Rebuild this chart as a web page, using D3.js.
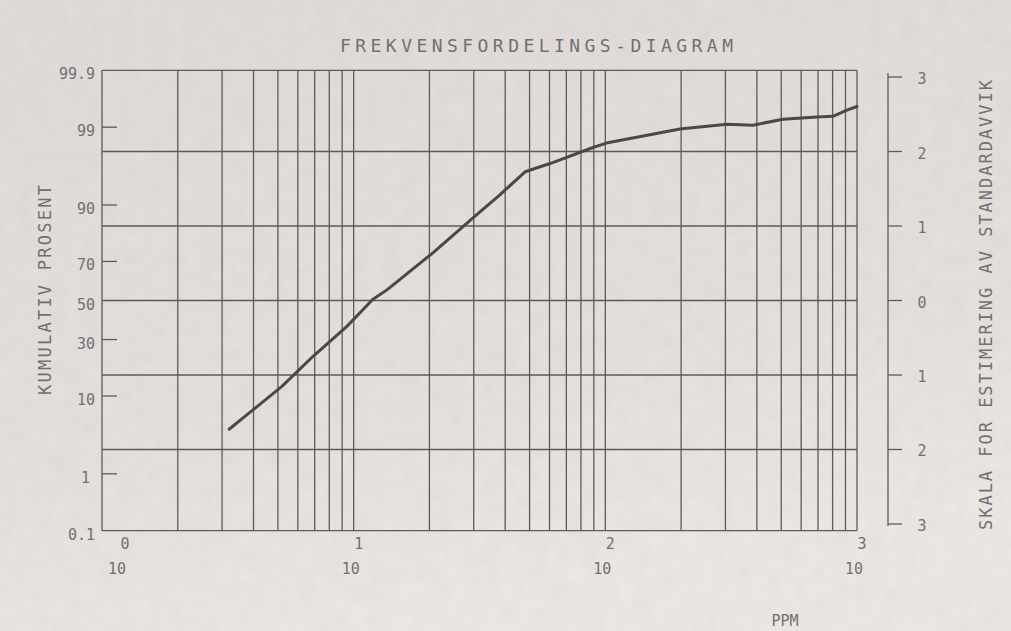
<script src='https://d3js.org/d3.v7.min.js'></script>
<body style="margin:0">
<script>
  // cumulative frequency curve
  const ppm = [3.2, 5.2, 6.9, 9.4, 11.9, 13.6, 20.7, 29.8, 38.1, 48, 60.3, 89.3, 101, 198, 304, 386, 508, 693, 802, 912, 1000];
  const cumPct = [4.2, 12.5, 22.7, 36.4, 50.5, 55.8, 74.0, 86.6, 92.2, 95.8, 96.7, 98.0, 98.27, 98.93, 99.10, 99.07, 99.25, 99.31, 99.33, 99.47, 99.54];

  const pctTicks = [99, 90, 70, 30, 10, 1];
  const pctLabels = ["99.9", "99", "90", "70", "50", "30", "10", "1", "0.1"];
  const sdTicks = [3, 2, 1, 0, -1, -2, -3];
  const sdLabels = ["3", "2", "1", "0", "1", "2", "3"];
  const decades = [0, 1, 2, 3];

  const width = 1011, height = 631;
  const ink = "#5e5a5a";
  const txt = "#747070";
  const font = "'DejaVu Sans Mono', monospace";

  // inverse normal cdf (Acklam)
  function probit(p) {
    var a = [-3.969683028665376e+01, 2.209460984245205e+02, -2.759285104469687e+02, 1.383577518672690e+02, -3.066479806614716e+01, 2.506628277459239e+00];
    var b = [-5.447609879822406e+01, 1.615858368580409e+02, -1.556989798598866e+02, 6.680131188771972e+01, -1.328068155288572e+01];
    var c = [-7.784894002430293e-03, -3.223964580411365e-01, -2.400758277161838e+00, -2.549732539343734e+00, 4.374664141464968e+00, 2.938163982698783e+00];
    var d = [7.784695709041462e-03, 3.224671290700398e-01, 2.445134137142996e+00, 3.754408661907416e+00];
    var pl = 0.02425, q, r;
    if (p < pl) {
      q = Math.sqrt(-2 * Math.log(p));
      return (((((c[0]*q+c[1])*q+c[2])*q+c[3])*q+c[4])*q+c[5]) / ((((d[0]*q+d[1])*q+d[2])*q+d[3])*q+1);
    } else if (p <= 1 - pl) {
      q = p - 0.5; r = q * q;
      return (((((a[0]*r+a[1])*r+a[2])*r+a[3])*r+a[4])*r+a[5])*q / (((((b[0]*r+b[1])*r+b[2])*r+b[3])*r+b[4])*r+1);
    } else {
      q = Math.sqrt(-2 * Math.log(1 - p));
      return -(((((c[0]*q+c[1])*q+c[2])*q+c[3])*q+c[4])*q+c[5]) / ((((d[0]*q+d[1])*q+d[2])*q+d[3])*q+1);
    }
  }

  var x = d3.scaleLog().domain([1, 1000]).range([102, 857]);
  var z = d3.scaleLinear().domain([-3.09, 3.09]).range([530.7, 70.3]);
  var y = function(p) { return z(probit(p / 100)); };

  var svg = d3.select("body").append("svg")
    .attr("width", width)
    .attr("height", height);

  var defs = svg.append("defs");
  var grad = defs.append("linearGradient").attr("id", "paper")
    .attr("x1", "0").attr("y1", "0").attr("x2", "0.3").attr("y2", "1");
  grad.append("stop").attr("offset", "0").attr("stop-color", "#e0dad9");
  grad.append("stop").attr("offset", "0.7").attr("stop-color", "#e5e0de");
  grad.append("stop").attr("offset", "1").attr("stop-color", "#ebe7e2");

  // faint paper grain
  var f = defs.append("filter").attr("id", "grain");
  f.append("feTurbulence").attr("type", "fractalNoise").attr("baseFrequency", "0.06").attr("numOctaves", 3).attr("seed", 4);
  f.append("feColorMatrix").attr("type", "matrix")
    .attr("values", "0 0 0 0 0.45  0 0 0 0 0.43  0 0 0 0 0.43  0 0 0 0.45 -0.1");

  svg.append("rect").attr("width", width).attr("height", height).attr("fill", "url(#paper)");
  svg.append("rect").attr("width", width).attr("height", height).attr("filter", "url(#grain)").attr("opacity", 0.35);

  var grid = svg.append("g").attr("stroke", ink).attr("stroke-width", 1.3).attr("fill", "none");

  // vertical log grid
  grid.selectAll(".vx")
    .data(x.ticks())
    .enter().append("line")
    .attr("x1", function(d) { return x(d); })
    .attr("x2", function(d) { return x(d); })
    .attr("y1", z(3.09))
    .attr("y2", z(-3.09));

  // horizontal grid at whole standard deviations
  grid.selectAll(".hz")
    .data([3.09, 2, 1, 0, -1, -2, -3.09])
    .enter().append("line")
    .attr("x1", x(1))
    .attr("x2", x(1000))
    .attr("y1", function(d) { return z(d); })
    .attr("y2", function(d) { return z(d); });

  // left ticks, inside the box
  grid.selectAll(".lt")
    .data(pctTicks)
    .enter().append("line")
    .attr("x1", x(1))
    .attr("x2", x(1) + 15)
    .attr("y1", function(d) { return y(d); })
    .attr("y2", function(d) { return y(d); });

  svg.selectAll(".ll")
    .data(pctLabels)
    .enter().append("text")
    .attr("x", function(d) { return d == "1" ? 90 : 95; })
    .attr("y", function(d) { return y(+d) + 4; })
    .attr("text-anchor", "end")
    .attr("dominant-baseline", "central")
    .attr("font-family", font)
    .attr("font-size", "15px")
    .attr("fill", txt)
    .text(function(d) { return d; });

  // right standard deviation scale
  var rx = 888;
  grid.append("line")
    .attr("x1", rx).attr("x2", rx)
    .attr("y1", z(3) - 4).attr("y2", z(-3) + 2);
  grid.selectAll(".rt")
    .data(sdTicks)
    .enter().append("line")
    .attr("x1", rx)
    .attr("x2", rx + 14)
    .attr("y1", function(d) { return z(d); })
    .attr("y2", function(d) { return z(d); });

  svg.selectAll(".rl")
    .data(sdTicks)
    .enter().append("text")
    .attr("x", 922)
    .attr("y", function(d) { return z(d) + 2; })
    .attr("text-anchor", "middle")
    .attr("dominant-baseline", "central")
    .attr("font-family", font)
    .attr("font-size", "15px")
    .attr("fill", txt)
    .text(function(d, i) { return sdLabels[i]; });

  // x labels: 10 with exponent
  var xl = svg.selectAll(".xl")
    .data(decades)
    .enter().append("g")
    .attr("transform", function(d) {
      var px = x(Math.pow(10, d)) + (d == 0 ? 15 : -3);
      return "translate(" + px + ",0)";
    })
    .attr("font-family", font)
    .attr("fill", txt)
    .attr("text-anchor", "middle");
  xl.append("text")
    .attr("y", 574)
    .attr("font-size", "15px")
    .text("10");
  xl.append("text")
    .attr("x", 8)
    .attr("y", 549)
    .attr("font-size", "15px")
    .text(function(d) { return d; });

  // the curve
  var line = d3.line()
    .x(function(d, i) { return x(ppm[i]); })
    .y(function(d) { return y(d); });

  svg.append("path")
    .datum(cumPct)
    .attr("d", line)
    .attr("fill", "none")
    .attr("stroke", "#4b4848")
    .attr("stroke-width", 3)
    .attr("stroke-linejoin", "round")
    .attr("stroke-linecap", "round");

  // titles
  svg.append("text")
    .attr("x", 340).attr("y", 52)
    .attr("textLength", 393)
    .attr("lengthAdjust", "spacing")
    .attr("font-family", font)
    .attr("font-size", "18px")
    .attr("fill", txt)
    .text("FREKVENSFORDELINGS-DIAGRAM");

  svg.append("text")
    .attr("transform", "translate(51,395) rotate(-90)")
    .attr("textLength", 210)
    .attr("lengthAdjust", "spacing")
    .attr("font-family", font)
    .attr("font-size", "17px")
    .attr("fill", txt)
    .text("KUMULATIV PROSENT");

  svg.append("text")
    .attr("transform", "translate(992,530) rotate(-90)")
    .attr("textLength", 450)
    .attr("lengthAdjust", "spacing")
    .attr("font-family", font)
    .attr("font-size", "17px")
    .attr("fill", txt)
    .text("SKALA FOR ESTIMERING AV STANDARDAVVIK");

  svg.append("text")
    .attr("x", 785).attr("y", 626)
    .attr("text-anchor", "middle")
    .attr("font-family", font)
    .attr("font-size", "15px")
    .attr("fill", txt)
    .text("PPM");
</script>
</body>
